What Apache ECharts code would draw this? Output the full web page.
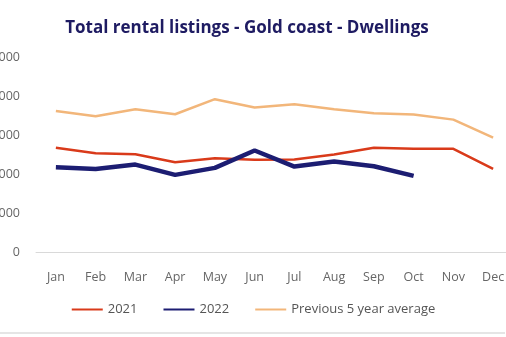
<!DOCTYPE html>
<html>
<head>
<meta charset="utf-8">
<script src="https://cdn.jsdelivr.net/npm/echarts@6/dist/echarts.min.js"></script>
<style>html,body{margin:0;padding:0;background:#fff;}#c{width:506px;height:337px;}</style>
</head>
<body>
<div id="c"></div>
<script>
var months = ['Jan','Feb','Mar','Apr','May','Jun','Jul','Aug','Sep','Oct','Nov','Dec'];
var y2021 = [2672, 2534, 2508, 2302, 2405, 2363, 2371, 2500, 2672, 2646, 2646, 2131];
var y2022 = [2173, 2131, 2242, 1977, 2157, 2603, 2191, 2320, 2198, 1951];
var avg5 = [3616, 3479, 3660, 3531, 3918, 3703, 3789, 3660, 3557, 3523, 3394, 2930];
var yTicks = [0, 1000, 2000, 3000, 4000, 5000];

var chart = echarts.init(document.getElementById('c'));
var font = 'Open Sans';
chart.setOption({
  animation: false,
  title: {
    text: 'Total rental listings - Gold coast - Dwellings',
    left: 242, top: 15, textAlign: 'center',
    textStyle: {fontFamily: font, fontWeight: 'bold', fontSize: 17, color: '#1e1b62'}
  },
  grid: {left: 36, width: 477, top: 57, bottom: 85, containLabel: false, outerBoundsMode: 'none'},
  legend: {
    bottom: 16, left: 'center',
    itemWidth: 31, itemHeight: 3, itemGap: 25,
    itemStyle: {opacity: 0},
    textStyle: {fontFamily: font, fontSize: 13, color: '#555'},
    data: ['2021', '2022', 'Previous 5 year average']
  },
  xAxis: {
    type: 'category', data: months, boundaryGap: true,
    axisLine: {lineStyle: {color: '#d9d9d9'}},
    axisTick: {show: false},
    axisLabel: {fontFamily: font, fontSize: 12.5, color: '#666', margin: 19}
  },
  yAxis: {
    type: 'value', min: yTicks[0], max: yTicks[yTicks.length - 1], interval: 1000,
    splitLine: {show: false},
    axisLine: {show: false}, axisTick: {show: false},
    axisLabel: {fontFamily: font, fontSize: 12.5, color: '#666', margin: 16}
  },
  series: [
    {name: '2021', type: 'line', data: y2021, symbol: 'none', lineStyle: {color: '#d93a1a', width: 2.5}, itemStyle: {color: '#d93a1a'}},
    {name: '2022', type: 'line', data: y2022, symbol: 'none', lineStyle: {color: '#1c1d72', width: 4.5}, itemStyle: {color: '#1c1d72'}},
    {name: 'Previous 5 year average', type: 'line', data: avg5, symbol: 'none', lineStyle: {color: '#f2b67a', width: 2.5}, itemStyle: {color: '#f2b67a'}}
  ],
  graphic: [{type: 'line', shape: {x1: 0, y1: 333, x2: 505, y2: 333}, style: {stroke: '#dcdcdc', lineWidth: 1.5}}]
});
</script>
</body>
</html>
